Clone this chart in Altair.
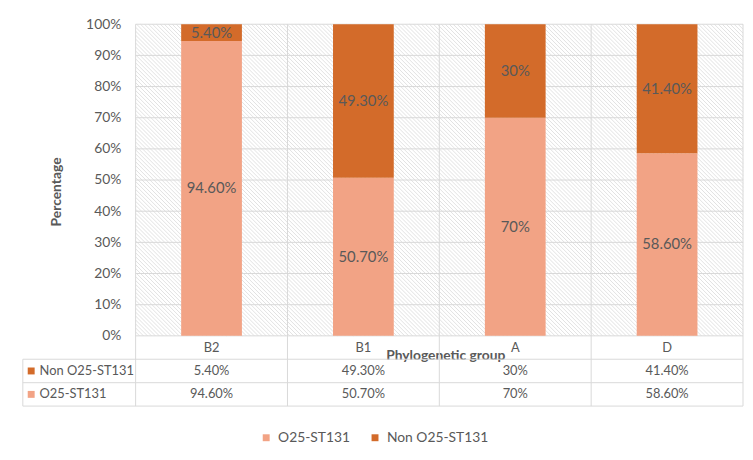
import altair as alt
import pandas as pd

# ---- data ----
categories = ["B2", "B1", "A", "D"]
o25_values = [94.6, 50.7, 70.0, 58.6]
non_o25_values = [5.4, 49.3, 30.0, 41.4]
o25_labels = ["94.60%", "50.70%", "70%", "58.60%"]
non_o25_labels = ["5.40%", "49.30%", "30%", "41.40%"]
series_names = ["O25-ST131", "Non O25-ST131"]
y_ticks = [0, 10, 20, 30, 40, 50, 60, 70, 80, 90, 100]

# ---- styling / layout constants ----
LIGHT = "#F2A385"
DARK = "#D36B2A"
GRID = "#D9D9D9"
HATCH = "#E2E2E2"
TXT = "#595959"
FONT = "Lato"
ROW = 7.514          # table row height in y units
LEFT = -0.7427       # left edge of table label column in x units
BAR_HALF = 0.2       # half bar width in category units
N = len(categories)
W_PX, H_PX = 614, 315          # plot-area size of the 0-100% region
PX_X = W_PX / N                # px per category unit
PX_Y = H_PX / 100.0            # px per percent unit
HATCH_STEP = 4                 # px between hatch lines

# bars
bar_rows = []
for i, c in enumerate(categories):
    bar_rows.append(dict(cat=c, series=series_names[0], x=i + 0.5 - BAR_HALF, x2=i + 0.5 + BAR_HALF,
                         xc=i + 0.5, y=0.0, y2=o25_values[i], label=o25_labels[i]))
    bar_rows.append(dict(cat=c, series=series_names[1], x=i + 0.5 - BAR_HALF, x2=i + 0.5 + BAR_HALF,
                         xc=i + 0.5, y=o25_values[i], y2=o25_values[i] + non_o25_values[i],
                         label=non_o25_labels[i]))
bars_df = pd.DataFrame(bar_rows)
bars_df["ym"] = (bars_df["y"] + bars_df["y2"]) / 2

# table cells
cell_rows = []
for i, c in enumerate(categories):
    cell_rows.append(dict(xc=i + 0.5, yc=-0.5 * ROW, text=c))
    cell_rows.append(dict(xc=i + 0.5, yc=-1.5 * ROW, text=non_o25_labels[i]))
    cell_rows.append(dict(xc=i + 0.5, yc=-2.5 * ROW, text=o25_labels[i]))
cells_df = pd.DataFrame(cell_rows)

row_label_df = pd.DataFrame([
    dict(series=series_names[1], yc=-1.5 * ROW, xs=LEFT + 0.055, xt=LEFT + 0.11),
    dict(series=series_names[0], yc=-2.5 * ROW, xs=LEFT + 0.055, xt=LEFT + 0.11),
])

# grid & table lines
lines = []
for t in y_ticks:
    lines.append(dict(x=0, x2=N, y=t, y2=t))
for k in range(N + 1):
    lines.append(dict(x=k, x2=k, y=-3 * ROW, y2=100))
for r in (1, 2, 3):
    lines.append(dict(x=LEFT, x2=N, y=-r * ROW, y2=-r * ROW))
lines.append(dict(x=LEFT, x2=LEFT, y=-ROW, y2=-3 * ROW))
lines_df = pd.DataFrame(lines)

# decorative diagonal hatch texture of the plot background (clipped to 0-100% region)
hatch = []
for p in range(-H_PX, W_PX, HATCH_STEP):
    sx, sy = p, 0
    if sx < 0:
        sx, sy = 0, -p
    ex, ey = p + H_PX, H_PX
    if ex > W_PX:
        ex, ey = W_PX, H_PX - (p + H_PX - W_PX)
    if ey <= sy:
        continue
    hatch.append(dict(x=sx / PX_X, x2=ex / PX_X, y=100 - sy / PX_Y, y2=100 - ey / PX_Y))
hatch_df = pd.DataFrame(hatch)

# ---- shared scales & axes ----
xs = alt.Scale(domain=[0, N], nice=False, zero=False)
ys = alt.Scale(domain=[-3 * ROW, 100], nice=False, zero=False)
x_axis = alt.Axis(labels=False, ticks=False, domain=False, grid=False,
                  titleFont=FONT, titleFontSize=14, titleFontWeight="bold", titleColor=TXT,
                  titleX=313, titleY=-51, titleBaseline="middle", titleAlign="center")
y_axis = alt.Axis(values=y_ticks, labelExpr="datum.value + '%'", domain=False, ticks=False,
                  tickSize=0, grid=False, labelFont=FONT, labelFontSize=14, labelColor=TXT,
                  labelPadding=15, titleFont=FONT, titleFontSize=14, titleFontWeight="bold",
                  titleColor=TXT, titleX=-80, titleY=169, titleBaseline="middle",
                  titleAlign="center", titleAngle=270)
cs = alt.Scale(domain=series_names, range=[LIGHT, DARK])
legend = alt.Legend(orient="none", legendX=125, legendY=411, direction="horizontal", title=None,
                    symbolType="square", symbolSize=49, symbolStrokeWidth=0, labelFont=FONT,
                    labelFontSize=14, labelColor=TXT, columnPadding=18, labelOffset=5, padding=0)


def X(f):
    return alt.X(f, type="quantitative", scale=xs, axis=x_axis, title="Phylogenetic group")


def Y(f):
    return alt.Y(f, type="quantitative", scale=ys, axis=y_axis, title="Percentage")


hatch_layer = alt.Chart(hatch_df).mark_rule(color=HATCH, strokeWidth=1).encode(
    x=X("x"), x2="x2", y=Y("y"), y2="y2")

rules = alt.Chart(lines_df).mark_rule(color=GRID, strokeWidth=1).encode(
    x=X("x"), x2="x2", y=Y("y"), y2="y2")

bars = alt.Chart(bars_df).mark_rect().encode(
    x=X("x"), x2="x2", y=Y("y"), y2="y2",
    color=alt.Color("series:N", scale=cs, legend=legend))

bar_text = alt.Chart(bars_df).mark_text(font=FONT, fontSize=15, color=TXT, baseline="middle").encode(
    x=X("xc"), y=Y("ym"), text="label:N")

cell_text = alt.Chart(cells_df).mark_text(font=FONT, fontSize=13, color=TXT, baseline="middle").encode(
    x=X("xc"), y=Y("yc"), text="text:N")

swatches = alt.Chart(row_label_df).mark_square(size=49, opacity=1).encode(
    x=X("xs"), y=Y("yc"), color=alt.Color("series:N", scale=cs, legend=legend))

row_text = alt.Chart(row_label_df).mark_text(font=FONT, fontSize=13, color=TXT, align="left",
                                              baseline="middle").encode(
    x=X("xt"), y=Y("yc"), text="series:N")

chart = alt.layer(hatch_layer, rules, bars, bar_text, cell_text, swatches, row_text).properties(
    width=614, height=386,
    autosize=alt.AutoSizeParams(type="none"),
    padding={"left": 129, "top": 14, "right": 2, "bottom": 44},
    background="white",
).configure_view(stroke=None)

chart.save("out.html", embed_options={"renderer": "svg", "actions": False})
